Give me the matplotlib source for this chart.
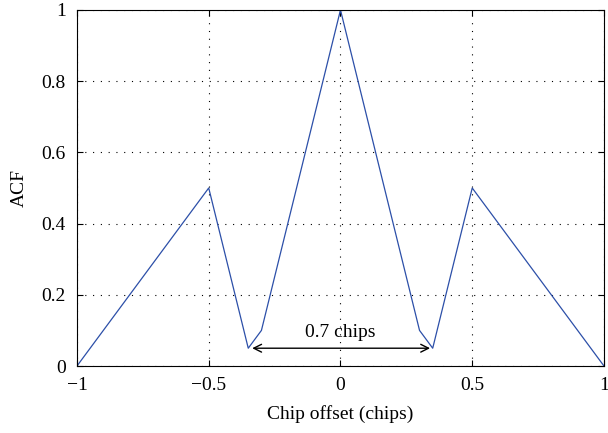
import matplotlib
matplotlib.use("Agg")
import matplotlib.pyplot as plt

# ACF of the modulated signal
offset = [-1.0, -0.5, -0.35, -0.3, 0.0, 0.3, 0.35, 0.5, 1.0]
acf = [0.0, 0.5, 0.05, 0.1, 1.0, 0.1, 0.05, 0.5, 0.0]

xticks = [-1, -0.5, 0, 0.5, 1]
xtick_labels = ["\u22121", "\u22120.5", "0", "0.5", "1"]
yticks = [0, 0.2, 0.4, 0.6, 0.8, 1]
ytick_labels = ["0", "0.2", "0.4", "0.6", "0.8", "1"]

plt.rcParams['font.family'] = ['Liberation Serif', 'DejaVu Serif']
plt.rcParams['font.size'] = 14

fig = plt.figure(figsize=(6.08, 4.33), dpi=100)
ax = fig.add_axes([0.1266, 0.1547, 0.8668, 0.8223])
ax.plot(offset, acf, color="#2c4fa8", linewidth=0.9)

ax.set_xlim(-1, 1)
ax.set_ylim(0, 1)
ax.set_xticks(xticks)
ax.set_xticklabels(xtick_labels)
ax.set_yticks(yticks)
ax.set_yticklabels(ytick_labels)
ax.tick_params(direction="in", top=True, right=True, length=4, width=0.8, labelsize=14)
ax.tick_params(axis="x", pad=8)
ax.tick_params(axis="y", pad=8)
ax.grid(True, linestyle=(0, (1, 6)), color="black", linewidth=0.8)
for s in ax.spines.values():
    s.set_linewidth(0.8)

ax.annotate("", xy=(-0.335, 0.05), xytext=(0.34, 0.05),
            arrowprops=dict(arrowstyle="<->", color="black", lw=1.0, shrinkA=0, shrinkB=0))
ax.text(0.0, 0.093, "0.7 chips", ha="center", va="center", fontsize=14)

ax.set_xlabel("Chip offset (chips)", fontsize=14, labelpad=8)
ax.set_ylabel("ACF", fontsize=14, labelpad=10)

fig.savefig("out.png", dpi=100)
